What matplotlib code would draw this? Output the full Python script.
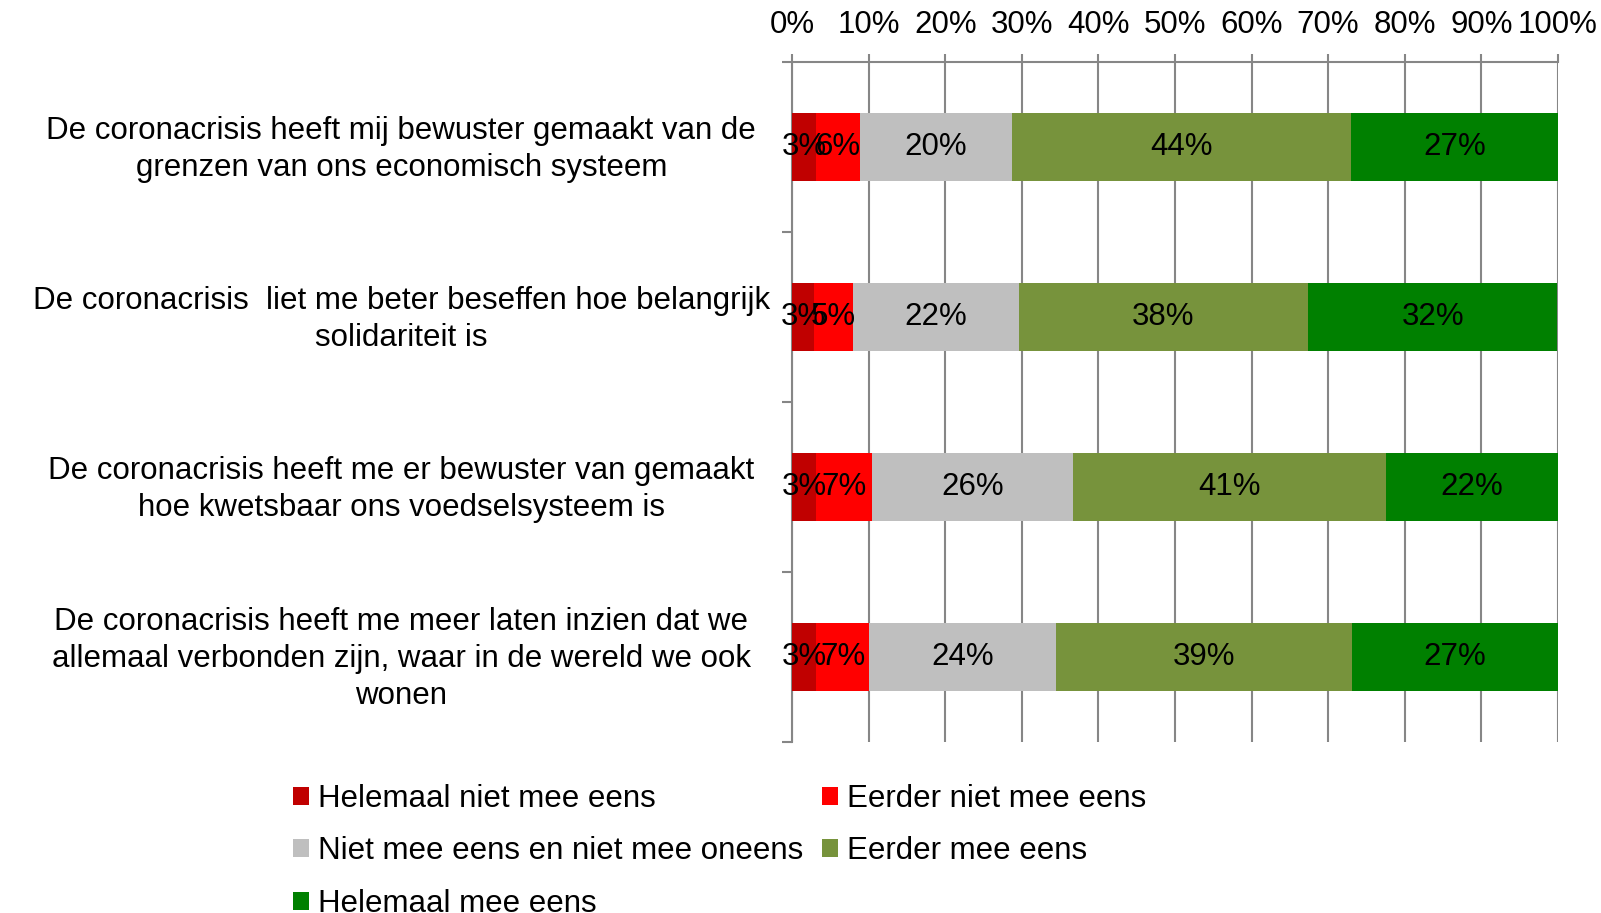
import matplotlib
matplotlib.use("Agg")
import matplotlib.pyplot as plt
from matplotlib.patches import Patch
from matplotlib.transforms import blended_transform_factory

plt.rcParams['font.family'] = ['Liberation Sans', 'DejaVu Sans']

statements = [
    "De coronacrisis heeft mij bewuster gemaakt van de\ngrenzen van ons economisch systeem",
    "De coronacrisis  liet me beter beseffen hoe belangrijk\nsolidariteit is",
    "De coronacrisis heeft me er bewuster van gemaakt\nhoe kwetsbaar ons voedselsysteem is",
    "De coronacrisis heeft me meer laten inzien dat we\nallemaal verbonden zijn, waar in de wereld we ook\nwonen",
]
answers = [
    "Helemaal niet mee eens",
    "Eerder niet mee eens",
    "Niet mee eens en niet mee oneens",
    "Eerder mee eens",
    "Helemaal mee eens",
]
# percentages per answer, one value per statement
helemaal_niet = [3.1, 2.9, 3.1, 3.1]
eerder_niet = [5.8, 5.1, 7.4, 7.0]
neutraal = [19.8, 21.6, 26.2, 24.4]
eerder_wel = [44.3, 37.8, 40.9, 38.6]
helemaal_wel = [27.0, 32.5, 22.4, 26.9]
series = [helemaal_niet, eerder_niet, neutraal, eerder_wel, helemaal_wel]
colors = ['#C00000', '#FF0000', '#BFBFBF', '#77933C', '#008000']
xticks = list(range(0, 101, 10))

FS = 22.5

fig = plt.figure(figsize=(16.01, 9.13), dpi=100)
ax = fig.add_axes([0.4947, 0.1873, 0.4784, 0.7447])

ypos = list(range(len(statements)))
left = [0.0] * len(statements)
for vals, col in zip(series, colors):
    ax.barh(ypos, vals, left=left, height=0.4, color=col, zorder=3)
    for i, v in enumerate(vals):
        ax.text(left[i] + v / 2, i, f"{v:.0f}%", ha='center', va='center',
                fontsize=FS, color='black', zorder=4)
    left = [a + b for a, b in zip(left, vals)]

ax.set_xlim(0, 100)
ax.set_ylim(3.5, -0.5)
ax.xaxis.tick_top()
ax.set_xticks(xticks)
ax.set_xticklabels([f"{t}%" for t in xticks], fontsize=FS)
ax.tick_params(axis='x', length=6, width=1.5, color='#868686', pad=10)
ax.grid(axis='x', color='#868686', linewidth=1.5, zorder=0)
ax.set_yticks([])
ax.set_yticks([-0.5, 0.5, 1.5, 2.5, 3.5], minor=True)
ax.tick_params(axis='y', which='minor', length=7, width=1.5,
               color='#868686', left=True)
for s in ['right', 'bottom']:
    ax.spines[s].set_visible(False)
for s in ['top', 'left']:
    ax.spines[s].set_color('#868686')
    ax.spines[s].set_linewidth(1.5)

trans = blended_transform_factory(fig.transFigure, ax.transData)
for i, lab in enumerate(statements):
    ax.text(0.2506, i + 0.012, lab, transform=trans, ha='center',
            va='center', multialignment='center', fontsize=FS,
            linespacing=1.3)

order = [0, 2, 4, 1, 3]
handles = [Patch(facecolor=colors[k], label=answers[k]) for k in order]
fig.legend(handles=handles, loc='upper left', bbox_to_anchor=(0.183, 0.1415),
           ncol=2, frameon=False, fontsize=FS, handlelength=0.5,
           handleheight=0.5, handletextpad=0.3, columnspacing=0.6,
           labelspacing=0.72, borderpad=0, borderaxespad=0)

fig.savefig("out.png", dpi=100)
